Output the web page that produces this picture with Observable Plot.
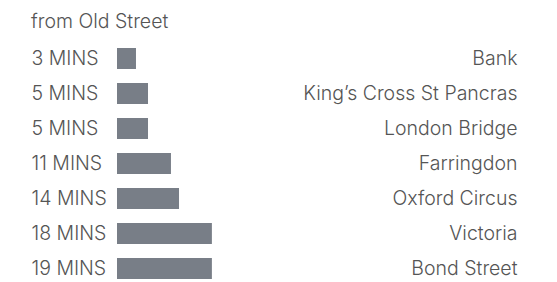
<!DOCTYPE html>
<html>
<head>
<meta charset="utf-8">
<script src="https://cdn.jsdelivr.net/npm/d3@7"></script>
<script src="https://cdn.jsdelivr.net/npm/@observablehq/plot@0.6"></script>
<style>
  body { margin: 0; background: #fff; font-family: Inter, "Noto Sans", sans-serif; }
  #title { height: 40px; box-sizing: border-box; padding: 10px 0 0 31px; line-height: 22px; font-size: 19.5px; font-weight: 300; color: #555; }
  #chart svg { display: block; }
</style>
</head>
<body>
<div id="title">from Old Street</div>
<div id="chart"></div>
<script>
const stations = ["Bank", "King’s Cross St Pancras", "London Bridge", "Farringdon", "Oxford Circus", "Victoria", "Bond Street"];
const minutes = [3, 5, 5, 11, 14, 18, 19];
const barLengths = [3.06, 5, 5, 8.7, 10, 15.3, 15.3];

const data = stations.map((s, i) => ({station: s, minutes: minutes[i], bar: barLengths[i]}));

const chart = Plot.plot({
  width: 557,
  height: 242,
  marginTop: 7,
  marginBottom: 2,
  marginLeft: 117,
  marginRight: 40,
  style: {fontFamily: "Inter, 'Noto Sans', sans-serif", fontSize: "19.5px", fontWeight: 300, color: "#555", background: "transparent"},
  x: {domain: [0, 64.5], axis: null},
  y: {domain: stations, axis: null, paddingInner: 0.4, paddingOuter: 0},
  marks: [
    Plot.barX(data, {y: "station", x: "bar", fill: "#787e87"}),
    Plot.text(data, {y: "station", text: d => `${d.minutes} MINS`, frameAnchor: "left", textAnchor: "start", dx: -86, fill: "#555", fontSize: 19.5, fontWeight: 300}),
    Plot.text(data, {y: "station", text: "station", frameAnchor: "right", textAnchor: "end", fill: "#555", fontSize: 19.5, fontWeight: 300})
  ]
});
document.getElementById("chart").appendChild(chart);
</script>
</body>
</html>
